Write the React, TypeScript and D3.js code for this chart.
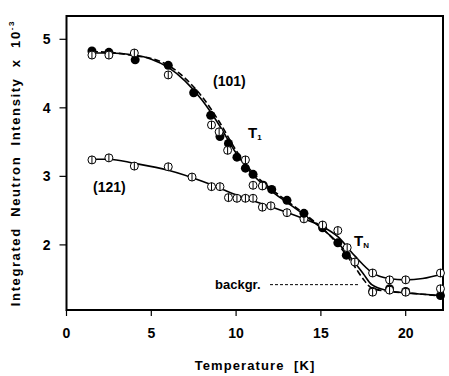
import React from "react";
import * as d3 from "d3";

// ---- data ----
const xTicks = [0, 5, 10, 15, 20];
const yTicks = [2, 3, 4, 5];

const filled101T = [1.5, 2.5, 4.05, 6.0, 7.5, 8.5, 9.05, 9.55, 10.05, 10.55, 11.0, 11.6, 12.1, 13.0, 14.0, 15.1, 16.0, 16.5, 18.05, 19.05, 20.0, 22.05];
const filled101V = [4.83, 4.81, 4.70, 4.62, 4.22, 3.89, 3.58, 3.48, 3.28, 3.12, 3.03, 2.87, 2.81, 2.65, 2.46, 2.25, 2.03, 1.85, 1.32, 1.36, 1.32, 1.26];

const open101T = [1.5, 2.5, 4.0, 6.0, 8.55, 9.0, 9.5, 10.55, 11.0, 11.55, 15.1, 16.55, 18.05, 19.05, 20.0, 22.05];
const open101V = [4.77, 4.77, 4.80, 4.48, 3.75, 3.65, 3.38, 3.24, 2.87, 2.86, 2.29, 1.96, 1.31, 1.34, 1.31, 1.36];

const open121T = [1.5, 2.5, 4.0, 6.0, 7.4, 8.55, 9.05, 9.55, 10.05, 10.55, 11.0, 11.55, 12.05, 13.0, 14.0, 16.0, 17.0, 18.05, 19.05, 20.0, 22.05];
const open121V = [3.24, 3.27, 3.15, 3.14, 2.99, 2.85, 2.85, 2.69, 2.68, 2.68, 2.68, 2.55, 2.57, 2.47, 2.38, 2.21, 1.75, 1.59, 1.49, 1.49, 1.59];

// guide-to-the-eye curves
const fit101T = [1.5, 2.5, 4, 5, 6, 7, 8, 9, 10, 11, 12, 13, 14, 15, 16, 17, 17.5, 18, 19, 20, 21, 22.2];
const fit101SolidV = [4.80, 4.80, 4.77, 4.71, 4.59, 4.39, 4.11, 3.75, 3.34, 3.02, 2.80, 2.62, 2.44, 2.25, 2.03, 1.74, 1.58, 1.42, 1.33, 1.30, 1.28, 1.26];
const fit101DashV = [4.82, 4.81, 4.76, 4.72, 4.62, 4.43, 4.16, 3.80, 3.38, 3.05, 2.83, 2.64, 2.46, 2.26, 2.01, 1.68, 1.50, 1.37, 1.32, 1.30, 1.28, 1.25];
const fit121T = [1.5, 2.5, 4, 6, 8, 10, 12, 14, 15, 16, 17, 18, 19, 20, 21, 22.2];
const fit121V = [3.25, 3.25, 3.19, 3.09, 2.93, 2.73, 2.56, 2.38, 2.28, 2.12, 1.84, 1.60, 1.51, 1.49, 1.51, 1.58];

const backgrT = [12.0, 17.2];
const backgrV = [1.42, 1.42];

const zip = (a: number[], b: number[]) => a.map((t, i) => [t, b[i]] as [number, number]);

export default function App() {
  const W = 449, H = 376;
  const x = d3.scaleLinear().domain([0, 22.2]).range([66.5, 443]);
  const y = d3.scaleLinear().domain([1.05, 5.34]).range([310, 16]);
  const line = d3.line<[number, number]>().x(d => x(d[0])).y(d => y(d[1])).curve(d3.curveMonotoneX);
  const font = "'Liberation Sans', Arial, Helvetica, sans-serif";

  const openMarker = (p: [number, number], i: number, key: string) => (
    <g key={key + i}>
      <circle cx={x(p[0])} cy={y(p[1])} r={4} fill="#fff" stroke="#000" strokeWidth={1} />
      <line x1={x(p[0])} x2={x(p[0])} y1={y(p[1]) - 4} y2={y(p[1]) + 4} stroke="#000" strokeWidth={1} />
    </g>
  );

  return (
    <svg width={W} height={H} style={{ position: "absolute", left: 0, top: 0, background: "#fff" }} fontFamily={font}>
      {/* frame */}
      <rect x={x(0)} y={y(5.34)} width={x(22.2) - x(0)} height={y(1.05) - y(5.34)} fill="none" stroke="#000" strokeWidth={2} />
      {/* y ticks */}
      {yTicks.map(t => (
        <g key={"y" + t}>
          <line x1={x(0) - 7} x2={x(0)} y1={y(t)} y2={y(t)} stroke="#000" strokeWidth={1.2} />
          <text x={x(0) - 16} y={y(t) + 5} textAnchor="end" fontSize={14} fontWeight="bold">{t}</text>
        </g>
      ))}
      {/* x ticks */}
      {xTicks.map(t => (
        <g key={"x" + t}>
          <line x1={x(t)} x2={x(t)} y1={y(1.05)} y2={y(1.05) + 6} stroke="#000" strokeWidth={1.2} />
          <text x={x(t)} y={338} textAnchor="middle" fontSize={14} fontWeight="bold">{t}</text>
        </g>
      ))}
      {/* axis titles */}
      <text x={255} y={370} textAnchor="middle" fontSize={13} fontWeight="bold" letterSpacing={1.1}>Temperature&#160;&#160;[K]</text>
      <text transform={`translate(20,163) rotate(-90)`} textAnchor="middle" fontSize={13} fontWeight="bold" letterSpacing={1.6}>
        Integrated&#160;&#160;Neutron&#160;&#160;Intensity&#160;&#160;x&#160;&#160;10<tspan dy={-6} fontSize={8}>-3</tspan>
      </text>

      {/* curves */}
      <path d={line(zip(fit121T, fit121V)) || ""} fill="none" stroke="#000" strokeWidth={1.6} />
      <path d={line(zip(fit101T, fit101SolidV)) || ""} fill="none" stroke="#000" strokeWidth={1.6} />
      <path d={line(zip(fit101T, fit101DashV)) || ""} fill="none" stroke="#000" strokeWidth={1.6} strokeDasharray="6,3" />
      <path d={line(zip(backgrT, backgrV)) || ""} fill="none" stroke="#000" strokeWidth={1} strokeDasharray="3,2" />

      {/* markers */}
      {zip(open121T, open121V).map((p, i) => openMarker(p, i, "o121"))}
      {zip(filled101T, filled101V).map((p, i) => (
        <circle key={"f" + i} cx={x(p[0])} cy={y(p[1])} r={4.5} fill="#000" />
      ))}
      {zip(open101T, open101V).map((p, i) => openMarker(p, i, "o101"))}

      {/* annotations */}
      <text x={213} y={86} fontSize={14} fontWeight="bold">(101)</text>
      <text x={93} y={192} fontSize={14} fontWeight="bold">(121)</text>
      <text x={248} y={138} fontSize={15} fontWeight="bold">T<tspan fontSize={8} dy={2}>1</tspan></text>
      <text x={354} y={246} fontSize={15} fontWeight="bold">T<tspan fontSize={8} dy={2}>N</tspan></text>
      <text x={215} y={289} fontSize={13} fontWeight="bold">backgr.</text>
    </svg>
  );
}
